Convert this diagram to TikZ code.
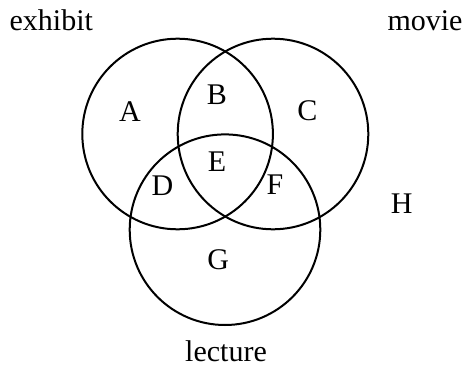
\documentclass[tikz,border=0pt]{standalone}
\usepackage{fontspec}
\setmainfont{Liberation Serif}

\begin{document}
\begin{tikzpicture}[x=1pt,y=-1pt,font=\fontsize{30}{36}\selectfont,
  set/.style={line width=2pt},
  lbl/.style={anchor=base,inner sep=0pt}]
\useasboundingbox (0,0) rectangle (464,367);
% three sets: exhibit (left), movie (right), lecture (bottom)
\coordinate (Ex) at (177.6,134);
\coordinate (Mo) at (273,134);
\coordinate (Le) at (225,229.7);
\draw[set] (Ex) circle (95.3);
\draw[set] (Mo) circle (95.3);
\draw[set] (Le) circle (95.3);
% set names
\node[lbl] (exhibit) at (51.3,30) {exhibit};
\node[lbl] (movie) at (425,30) {movie};
\node[lbl] (lecture) at (226,361.7) {lecture};
% regions
\node[lbl] (A) at (130,121.7) {A};
\node[lbl] (B) at (217,104) {B};
\node[lbl] (C) at (307.5,120.7) {C};
\node[lbl] (E) at (217,171) {E};
\node[lbl] (D) at (162.5,195) {D};
\node[lbl] (F) at (275,194.3) {F};
\node[lbl] (G) at (218.3,269.3) {G};
\node[lbl] (H) at (401.7,213.3) {H};
\end{tikzpicture}
\end{document}
